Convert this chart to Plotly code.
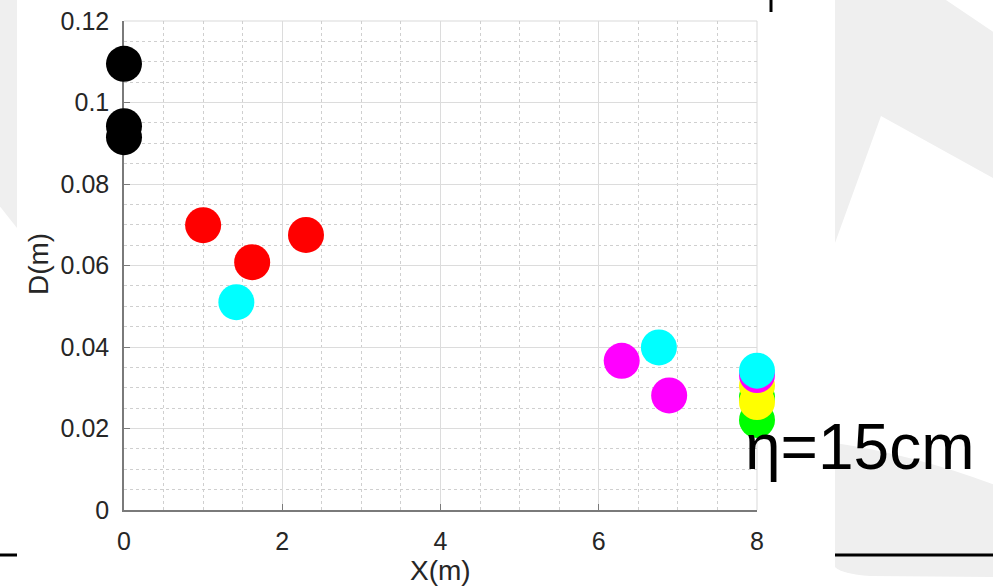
import plotly.graph_objects as go

# ---- data ----
black_x = [0.0, 0.0, 0.0]
black_y = [0.1095, 0.0942, 0.0915]
red_x = [1.00, 1.62, 2.30]
red_y = [0.0699, 0.0608, 0.0675]
green_x = [8.0, 8.0]
green_y = [0.0277, 0.0221]
yellow_x = [8.0, 8.0]
yellow_y = [0.0305, 0.0265]
magenta_x = [6.29, 6.89, 8.0]
magenta_y = [0.0366, 0.0281, 0.0331]
cyan_x = [1.42, 6.76, 8.0]
cyan_y = [0.0510, 0.0399, 0.0342]

x_ticks = [0, 2, 4, 6, 8]
y_ticks = [0, 0.02, 0.04, 0.06, 0.08, 0.1, 0.12]
y_tick_text = ["0", "0.02", "0.04", "0.06", "0.08", "0.1", "0.12"]
x_title = "X(m)"
y_title = "D(m)"
note = "η=15cm"

W, H = 993, 587
L, R, T, B = 124, 757, 21, 510


def P(px, py):
    return ((px - L) / (R - L), (B - py) / (B - T))


def path(cmds):
    out = []
    for c in cmds:
        if isinstance(c, str):
            out.append(c)
        else:
            x, y = P(*c)
            out.append(f"{x:.5f},{y:.5f}")
    return " ".join(out)


fig = go.Figure()
series = [
    (black_x, black_y, "#000000"),
    (red_x, red_y, "#ff0000"),
    (green_x, green_y, "#00ff00"),
    (yellow_x, yellow_y, "#ffff00"),
    (magenta_x, magenta_y, "#ff00ff"),
    (cyan_x, cyan_y, "#00ffff"),
]
for xs, ys, col in series:
    fig.add_trace(go.Scatter(x=xs, y=ys, mode="markers", cliponaxis=False,
                             marker=dict(size=36, color=col, line=dict(width=0)),
                             showlegend=False, hoverinfo="skip"))

gray = "#efefef"
shapes = [
    dict(type="path", xref="paper", yref="paper", layer="below", line=dict(width=0), fillcolor=gray,
         path=path(["M", (-2, -2), "L", (17, -2), "L", (17, 228), "L", (-2, 204), "Z"])),
    dict(type="path", xref="paper", yref="paper", layer="below", line=dict(width=0), fillcolor=gray,
         path=path(["M", (835, -2), "L", (943, -2), "L", (995, 33), "L", (995, 179), "L", (881, 116),
                    "L", (835, 243), "Z"])),
    dict(type="path", xref="paper", yref="paper", layer="below", line=dict(width=0), fillcolor=gray,
         path=path(["M", (835, 443), "Q", (915, 455), (995, 485), "L", (995, 577), "L", (870, 576),
                    "Q", (842, 574), (835, 567), "Z"])),
    dict(type="line", xref="paper", yref="paper", line=dict(color="#000000", width=3),
         x0=P(-2, 555)[0], y0=P(-2, 555)[1], x1=P(17, 555)[0], y1=P(17, 555)[1]),
    dict(type="line", xref="paper", yref="paper", line=dict(color="#000000", width=3),
         x0=P(835, 555)[0], y0=P(835, 555)[1], x1=P(995, 555)[0], y1=P(995, 555)[1]),
    dict(type="line", xref="paper", yref="paper", line=dict(color="#000000", width=3),
         x0=P(771, -2)[0], y0=P(771, -2)[1], x1=P(771, 12)[0], y1=P(771, 12)[1]),
    dict(type="line", xref="paper", yref="paper", layer="below", line=dict(color="#d9d9d9", width=1),
         x0=0, y0=1, x1=1, y1=1),
    dict(type="line", xref="paper", yref="paper", layer="below", line=dict(color="#d9d9d9", width=1),
         x0=1, y0=0, x1=1, y1=1),
]

tick_font = dict(family="Liberation Sans", size=25, color="#262626")
title_font = dict(family="Liberation Sans", size=28, color="#262626")
annotations = [
    dict(text=y_title, xref="paper", yref="paper", x=P(38, 264)[0], y=P(38, 264)[1],
         textangle=-90, showarrow=False, xanchor="center", yanchor="middle", font=title_font),
    dict(text=x_title, xref="paper", yref="paper", x=P(440, 570)[0], y=P(440, 570)[1],
         showarrow=False, xanchor="center", yanchor="middle", font=title_font),
    dict(text=note, xref="paper", yref="paper", x=P(743, 447)[0], y=P(743, 447)[1],
         showarrow=False, xanchor="left", yanchor="middle",
         font=dict(family="Liberation Sans", size=64, color="#000000")),
]

axis_common = dict(showline=True, linecolor="#7a7a7a", linewidth=1.5, mirror=False,
                   ticks="inside", ticklen=6, tickcolor="#7a7a7a", tickwidth=1,
                   showgrid=True, gridcolor="#dcdcdc", gridwidth=1, zeroline=False,
                   tickfont=tick_font, layer="below traces", fixedrange=True,
                   automargin=False)

fig.update_layout(
    width=W, height=H, autosize=False,
    margin=dict(l=L, r=W - R, t=T, b=H - B, pad=0, autoexpand=False),
    paper_bgcolor="#ffffff", plot_bgcolor="rgba(0,0,0,0)",
    xaxis=dict(range=[0, 8], tickvals=x_ticks, ticktext=[str(v) for v in x_ticks],
               ticklabelstandoff=8,
               minor=dict(dtick=0.5, showgrid=True, griddash="dot", gridcolor="#cfcfcf", gridwidth=1),
               **axis_common),
    yaxis=dict(range=[0, 0.12], tickvals=y_ticks, ticktext=y_tick_text,
               ticklabelstandoff=8,
               minor=dict(dtick=0.005, showgrid=True, griddash="dot", gridcolor="#cfcfcf", gridwidth=1),
               **axis_common),
    shapes=shapes, annotations=annotations,
)

fig.write_html("out.html")
